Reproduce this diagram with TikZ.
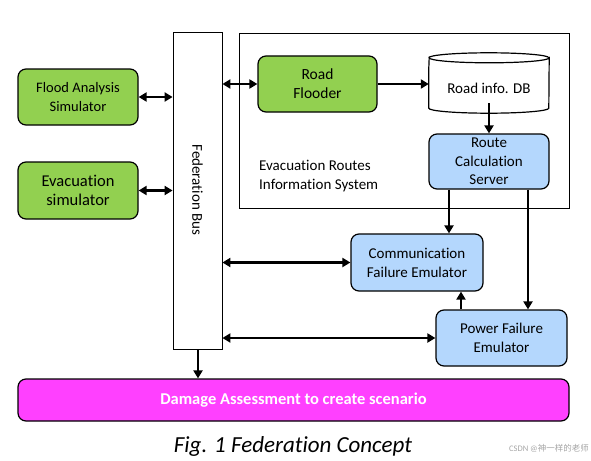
\documentclass[tikz,border=0pt]{standalone}
\usepackage{fontspec}
\setmainfont{Carlito}[Ligatures={NoCommon,NoContextual}]
\newfontfamily\cjkfont{Noto Sans CJK SC}
\usetikzlibrary{arrows.meta}
\definecolor{simgreen}{RGB}{146,208,80}
\definecolor{emblue}{RGB}{180,215,253}
\definecolor{dmgpink}{RGB}{255,64,255}
\begin{document}
\begin{tikzpicture}[x=1pt,y=-1pt,
  box/.style={draw=black,line width=1.2pt,rounded corners=8pt,align=center,inner sep=0pt},
  greenbox/.style={box,fill=simgreen},
  bluebox/.style={box,fill=emblue},
  conn/.style={line width=2.4pt,-{Triangle[length=8pt,width=9pt]}},
  bconn/.style={line width=2.4pt,{Triangle[length=8pt,width=9pt]}-{Triangle[length=8pt,width=9pt]}}]
\useasboundingbox (0,0) rectangle (591,460);
% ERIS frame
\node[draw,line width=0.8pt,minimum width=330pt,minimum height=175pt,inner sep=0pt] (eris) at (404,120.5) {};
\node[anchor=west,align=left,font=\fontsize{15}{19}\selectfont,inner sep=0pt] (erislbl) at (259,176.5) {Evacuation Routes\\Information System};
% bus
\node[draw,line width=0.8pt,fill=white,minimum width=49pt,minimum height=317pt,inner sep=0pt] (bus) at (197.5,190.5) {};
\node[rotate=-90,font=\fontsize{15}{17}\selectfont] (buslbl) at (197.5,190) {Federation Bus};
% left sims
\node[greenbox,minimum width=120pt,minimum height=56pt,font=\fontsize{14.5}{18.5}\selectfont] (flood) at (78,97) {Flood Analysis\\Simulator};
\node[greenbox,minimum width=120pt,minimum height=57pt,font=\fontsize{16.5}{19}\selectfont] (evac) at (78,190.5) {Evacuation\\simulator};
% road flooder
\node[greenbox,minimum width=119pt,minimum height=56pt,font=\fontsize{15.5}{19}\selectfont] (rf) at (317.5,84) {Road\\Flooder};
% DB
\node[minimum width=120pt,minimum height=40pt,inner sep=0pt] (db) at (489,83) {};
\draw[line width=1.2pt,fill=white] (db.north west) ++(0,5) -- ([yshift=-5pt]db.south west)
  arc[start angle=180,end angle=360,x radius=60pt,y radius=5pt] -- ([yshift=5pt]db.north east)
  arc[start angle=0,end angle=-180,x radius=60pt,y radius=5pt] -- cycle;
\draw[line width=1.2pt] ([yshift=5pt]db.north west) arc[start angle=180,end angle=0,x radius=60pt,y radius=5pt];
\node[font=\fontsize{15}{17}\selectfont] (dblbl) at (489,88) {Road info. DB};
% route server
\node[bluebox,minimum width=120pt,minimum height=55pt,font=\fontsize{15}{18.5}\selectfont] (rcs) at (489,161.5) {Route\\Calculation\\Server};
% comm
\node[bluebox,minimum width=132pt,minimum height=57pt,font=\fontsize{15}{19}\selectfont] (comm) at (417,262.5) {Communication\\Failure Emulator};
% power
\node[bluebox,minimum width=131pt,minimum height=56pt,font=\fontsize{15}{19}\selectfont] (pow) at (501.5,338) {Power Failure\\Emulator};
% damage
\node[box,fill=dmgpink,minimum width=551pt,minimum height=42pt,text=white,font=\bfseries\fontsize{16.5}{18}\selectfont] (dmg) at (293.5,400) {Damage Assessment to create scenario};
% caption
\node[font=\itshape\fontsize{23}{26}\selectfont] (cap) at (293,446) {Fig. 1 Federation Concept};
\node[text=black!35,font=\fontsize{8.5}{10}\selectfont,anchor=east,inner sep=0pt] (wm) at (589,448) {CSDN @\cjkfont 神一样的老师};
% connectors
\draw[bconn] (flood.east) -- (flood.east -| bus.west);
\draw[bconn] (evac.east) -- (evac.east -| bus.west);
\draw[bconn] (bus.east |- rf.west) -- (rf.west);
\draw[conn] (rf.east) -- (rf.east -| db.west);
\draw[conn] (db.south) -- (rcs.north);
\coordinate (a1) at (449,0 |- rcs.south);
\coordinate (a2) at (528,0 |- rcs.south);
\draw[conn] (a1) -- (a1 |- comm.north);
\draw[conn] (a2) -- (a2 |- pow.north);
\coordinate (p1) at (461,0 |- pow.north);
\draw[conn] (p1) -- (p1 |- comm.south);
\draw[bconn] (bus.east |- comm.west) -- (comm.west);
\draw[bconn] (bus.east |- pow.west) -- (pow.west);
\coordinate (b1) at (198,0 |- bus.south);
\draw[conn] (b1) -- (b1 |- dmg.north);
\end{tikzpicture}
\end{document}
